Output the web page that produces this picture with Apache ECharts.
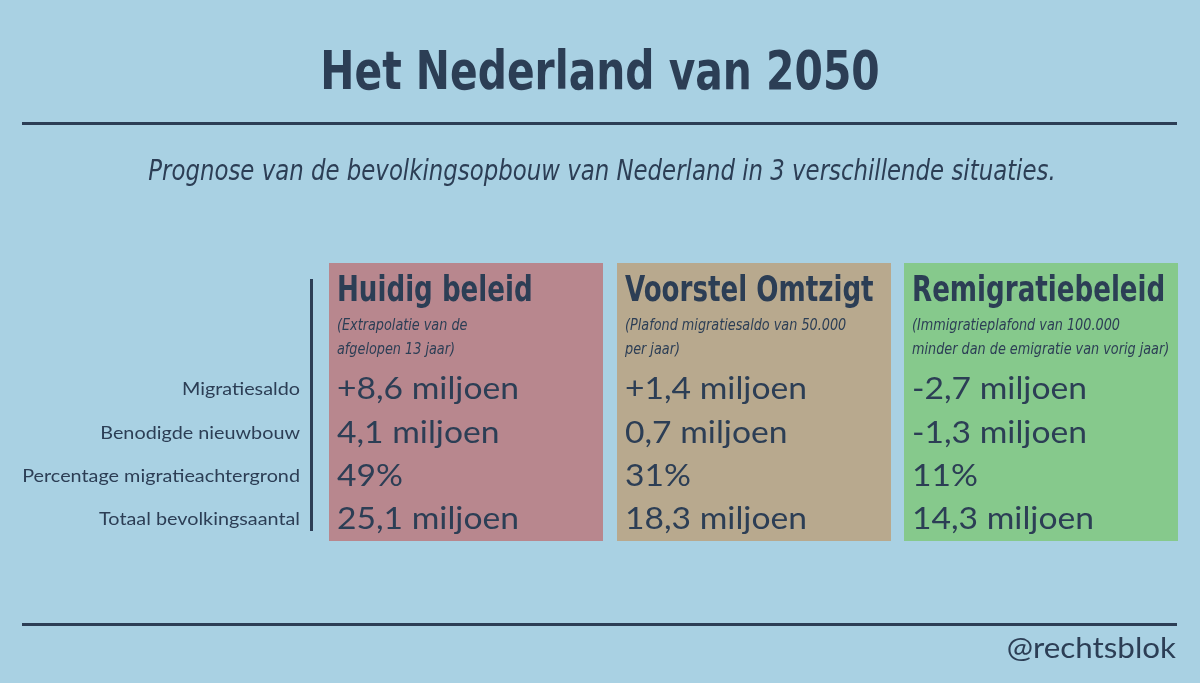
<!DOCTYPE html>
<html><head><meta charset="utf-8">
<script src="https://cdn.jsdelivr.net/npm/echarts@6/dist/echarts.min.js"></script>
<style>html,body{margin:0;padding:0;background:#a9d1e3}#c{width:1200px;height:683px}</style>
</head><body><div id="c"></div>
<script>
const rowLabels = ["Migratiesaldo", "Benodigde nieuwbouw", "Percentage migratieachtergrond", "Totaal bevolkingsaantal"];
const scenarios = ["Huidig beleid", "Voorstel Omtzigt", "Remigratiebeleid"];
const notes = [
  ["(Extrapolatie van de", "afgelopen 13 jaar)"],
  ["(Plafond migratiesaldo van 50.000", "per jaar)"],
  ["(Immigratieplafond van 100.000", "minder dan de emigratie van vorig jaar)"]
];
const values = [
  ["+8,6 miljoen", "4,1 miljoen", "49%", "25,1 miljoen"],
  ["+1,4 miljoen", "0,7 miljoen", "31%", "18,3 miljoen"],
  ["-2,7 miljoen", "-1,3 miljoen", "11%", "14,3 miljoen"]
];
const boxColors = ["#b8878e", "#b8a98e", "#86c98c"];

const ink = "#2c3e55";
const narrow = "'DejaVu Sans Condensed', 'Liberation Sans Narrow', sans-serif";
const body = "Lato, 'Open Sans', sans-serif";
const boxX = [329, 617, 904], boxW = 274, rowY = [389, 433, 476, 519];

const els = [
  { type: "text", x: 600, y: 75, scaleX: 0.84, style: { text: "Het Nederland van 2050", font: "bold 54px " + narrow, fill: ink, align: "center", verticalAlign: "middle" } },
  { type: "rect", shape: { x: 22, y: 122, width: 1155, height: 3 }, style: { fill: ink } },
  { type: "text", x: 602, y: 172, scaleX: 0.876, style: { text: "Prognose van de bevolkingsopbouw van Nederland in 3 verschillende situaties.", font: "italic 29px " + narrow, fill: ink, align: "center", verticalAlign: "middle" } },
  { type: "rect", shape: { x: 310, y: 279, width: 3, height: 252 }, style: { fill: ink } },
  { type: "rect", shape: { x: 22, y: 623, width: 1155, height: 3 }, style: { fill: ink } },
  { type: "text", x: 1176, y: 649, scaleX: 1.12, style: { text: "@rechtsblok", font: "28px " + body, fill: ink, align: "right", verticalAlign: "middle" } }
];
rowLabels.forEach((t, i) => els.push({ type: "text", x: 300, y: rowY[i], scaleX: 1.1, style: { text: t, font: "18px " + body, fill: ink, align: "right", verticalAlign: "middle" } }));
scenarios.forEach((s, k) => {
  const x = boxX[k];
  els.push({ type: "rect", shape: { x, y: 263, width: boxW, height: 278 }, style: { fill: boxColors[k] } });
  els.push({ type: "text", x: x + 8, y: 292, scaleX: 0.83, style: { text: s, font: "bold 35px " + narrow, fill: ink, verticalAlign: "middle" } });
  notes[k].forEach((n, j) => els.push({ type: "text", x: x + 8, y: 326 + j * 24, scaleX: 0.95, style: { text: n, font: "italic 15px " + narrow, fill: ink, verticalAlign: "middle" } }));
  values[k].forEach((v, i) => els.push({ type: "text", x: x + 8, y: rowY[i], scaleX: 1.12, style: { text: v, font: "30px " + body, fill: ink, verticalAlign: "middle" } }));
});

const chart = echarts.init(document.getElementById("c"));
chart.setOption({ backgroundColor: "#a9d1e3", graphic: { elements: els } });
</script></body></html>
